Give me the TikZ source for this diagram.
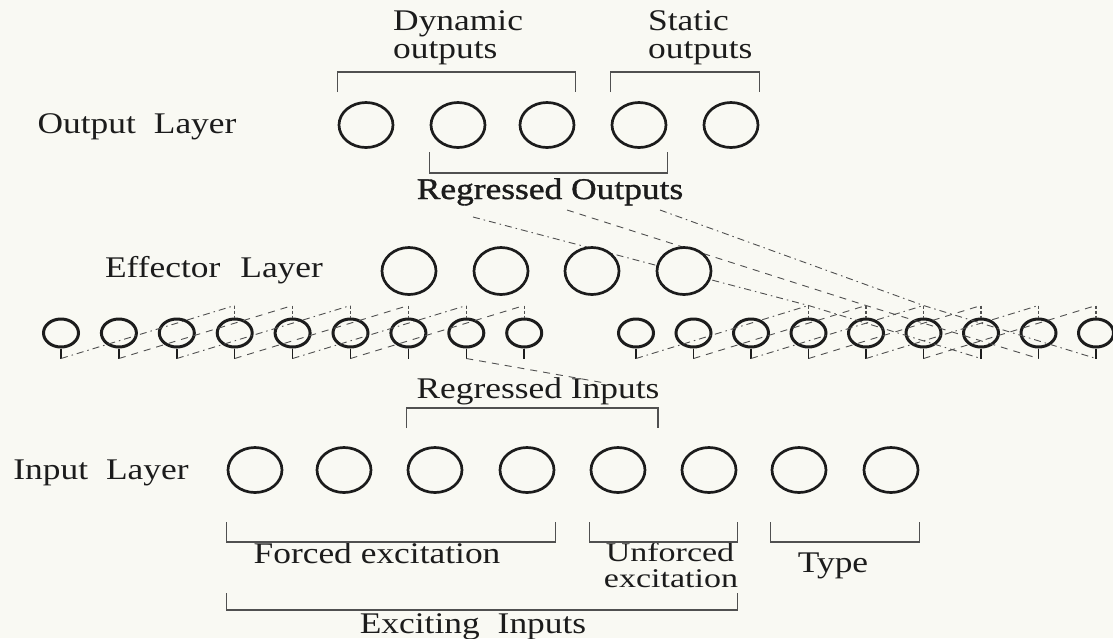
\documentclass[tikz,border=0pt]{standalone}
\usepackage{fontspec}
\setmainfont{Liberation Serif}[FakeStretch=1.18]
\newfontfamily\heavyfont{Liberation Serif}[FakeStretch=1.18, FakeBold=1.2]
\newfontfamily\narrowfont{Liberation Serif}[FakeStretch=1.26]
\usetikzlibrary{shapes.geometric,calc}
\definecolor{paper}{RGB}{249,249,243}
\definecolor{ink}{RGB}{28,28,28}
\definecolor{faint}{RGB}{80,80,80}
\begin{document}
\begin{tikzpicture}[x=1pt,y=-1pt,
  big/.style={ellipse, draw=ink, line width=2.7pt, minimum width=54pt, minimum height=45pt, inner sep=0pt, fill=paper},
  small/.style={ellipse, draw=ink, line width=3pt, minimum width=35pt, minimum height=28pt, inner sep=0pt},
  lbl/.style={font=\fontsize{30}{26}\selectfont, inner sep=0pt, text=ink},
  lblsm/.style={font=\narrowfont\fontsize{27}{22}\selectfont, inner sep=0pt, text=ink},
  brk/.style={draw=faint, line width=1.2pt},
  linkA/.style={draw=faint, line width=0.9pt, dash pattern=on 7pt off 4pt on 1.5pt off 4pt},
  linkB/.style={draw=faint, line width=0.9pt, dash pattern=on 7pt off 6pt},
  stem/.style={draw=ink, line width=1.5pt},
  topmark/.style={draw=faint, line width=1.1pt, dash pattern=on 3pt off 2pt},
]
\fill[paper] (0,0) rectangle (1113,638);
\useasboundingbox (0,0) rectangle (1113,638);

% ---------- labels ----------
\node[lbl, anchor=base west] (tdyn1) at (393,30) {Dynamic};
\node[lbl, anchor=base west] (tdyn2) at (393,58) {outputs};
\node[lbl, anchor=base west] (tsta1) at (648,30) {Static};
\node[lbl, anchor=base west] (tsta2) at (648,58) {outputs};
\node[lbl, anchor=base] (tout) at (137,133) {Output\hspace{18pt}Layer};
\node[lbl, anchor=base] (treo) at (550,199) {\heavyfont Regressed Outputs};
\node[lbl, anchor=base] (teff) at (214,277) {Effector\hspace{20pt}Layer};
\node[lbl, anchor=base] (trei) at (538,398) {Regressed Inputs};
\node[lbl, anchor=base] (tin) at (101,479) {Input\hspace{18pt}Layer};
\node[lbl, anchor=base] (tfor) at (377,563) {Forced excitation};
\node[lblsm, anchor=base] (tunf1) at (670,561) {Unforced};
\node[lblsm, anchor=base] (tunf2) at (671,587) {excitation};
\node[lbl, anchor=base] (ttyp) at (833,572) {Type};
\node[lbl, anchor=base] (texc) at (473,633) {Exciting\hspace{18pt}Inputs};

% ---------- small circles (two groups) ----------
\foreach \i in {1,...,9} {
  \node[small] (a\i) at ({61+57.9*(\i-1)},333) {};
  \node[small] (b\i) at ({636+57.5*(\i-1)},333) {};
  \coordinate (a\i-b) at ($(a\i.south)+(0,10)$);
  \coordinate (b\i-b) at ($(b\i.south)+(0,10)$);
  \coordinate (a\i-t) at ($(a\i.north)+(0,-12)$);
  \coordinate (b\i-t) at ($(b\i.north)+(0,-12)$);
  \draw[stem] (a\i.south) -- (a\i-b);
  \draw[stem] (b\i.south) -- (b\i-b);
}
\foreach \i in {4,...,9} {
  \draw[topmark] (a\i-t) -- (a\i.north);
  \draw[topmark] (b\i-t) -- (b\i.north);
}
% rising shift links
\foreach \i/\j/\s in {1/4/linkA,2/5/linkB,3/6/linkA,4/7/linkB,5/8/linkA,6/9/linkB} {
  \draw[\s] (a\i-b) -- (a\j-t);
  \draw[\s] (b\i-b) -- (b\j-t);
}

% ---------- regressed output links ----------
\coordinate (r3) at (473,217);
\coordinate (r2) at (567,210);
\coordinate (r1) at (660,210);
\coordinate (ri) at (605,383);
\draw[linkA] (r3) -- (b4-t) -- (b7-b);
\draw[linkB] (r2) -- (b5-t) -- (b8-b);
\draw[linkA] (r1) -- (b6-t) -- (b9-b);
\draw[linkB] (a8-b) -- (ri);

% ---------- big circles ----------
\foreach \x [count=\k] in {366,458,547,639,731}
  \node[big] (o\k) at (\x,125) {};
\foreach \x [count=\k] in {409,501,592,684}
  \node[big, minimum height=47pt] (e\k) at (\x,271) {};
\foreach \x [count=\k] in {255,344,435,527,618,709,799,891}
  \node[big] (i\k) at (\x,470) {};

% ---------- brackets ----------
\draw[brk] (o1.west |- 0,92) -- (o1.west |- 0,72) -- (o3.east |- 0,72) -- (o3.east |- 0,92);
\draw[brk] (o4.west |- 0,92) -- (o4.west |- 0,72) -- (o5.east |- 0,72) -- (o5.east |- 0,92);
\draw[brk] (o2.west |- 0,152) -- (o2.west |- 0,173) -- (o4.east |- 0,173) -- (o4.east |- 0,152);
\draw[brk] (i3.west |- 0,428) -- (i3.west |- 0,408) -- (658,408) -- (658,428);
\draw[brk] (i1.west |- 0,522) -- (i1.west |- 0,542) -- (i4.east |- 0,542) -- (i4.east |- 0,522);
\draw[brk] (i5.west |- 0,522) -- (i5.west |- 0,542) -- (i6.east |- 0,542) -- (i6.east |- 0,522);
\draw[brk] (i7.west |- 0,522) -- (i7.west |- 0,542) -- (i8.east |- 0,542) -- (i8.east |- 0,522);
\draw[brk] (i1.west |- 0,593) -- (i1.west |- 0,610) -- (i6.east |- 0,610) -- (i6.east |- 0,593);
\end{tikzpicture}
\end{document}
